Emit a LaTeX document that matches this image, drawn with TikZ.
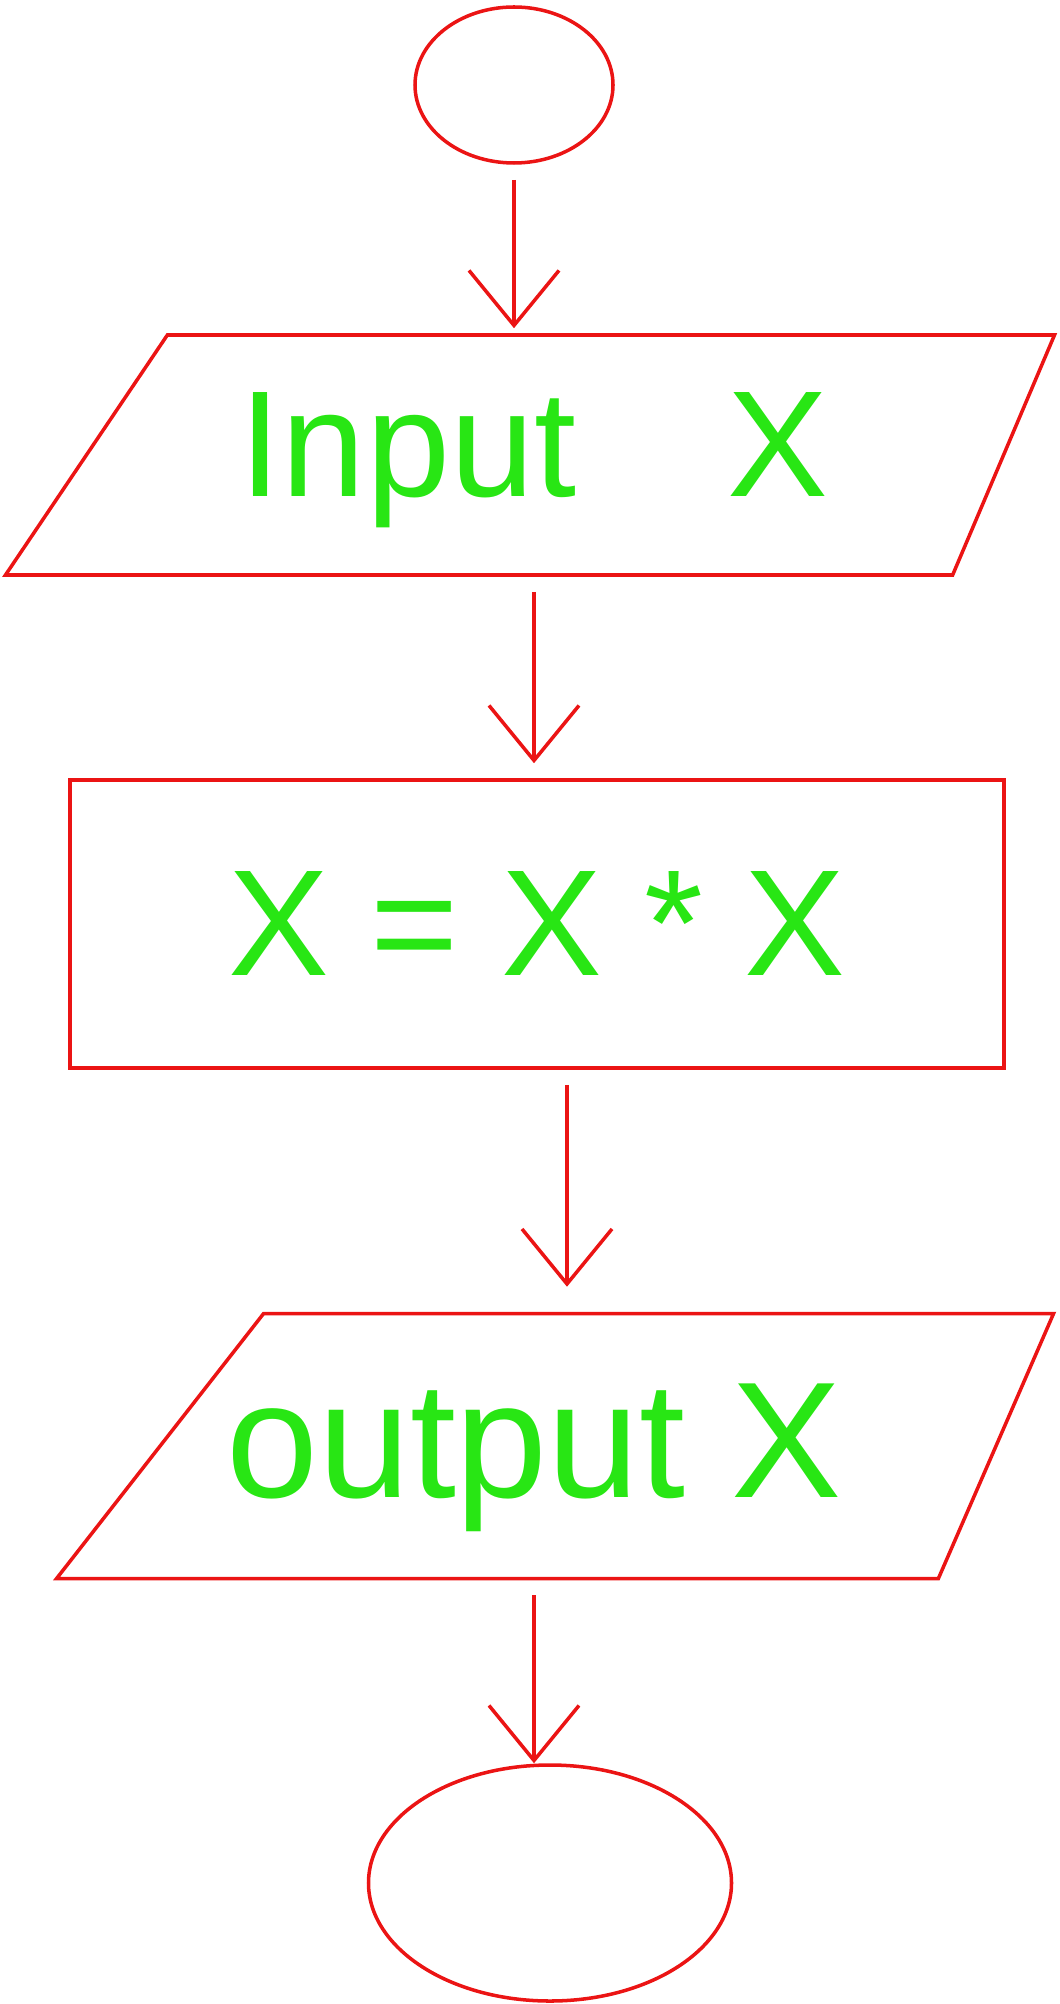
\documentclass[tikz,border=0pt]{standalone}
\usepackage{fontspec}
\setmainfont{Liberation Sans}
\usetikzlibrary{shapes.geometric,arrows.meta}
\definecolor{pen}{RGB}{235,20,20}
\definecolor{ink}{RGB}{40,230,20}

\begin{document}
\begin{tikzpicture}[line width=1pt,
    every node/.style={draw=pen,text=ink,font=\fontsize{43}{50}\selectfont},
    term/.style={ellipse},
    io/.style={trapezium,trapezium stretches body,inner xsep=0pt},
    txt/.style={draw=none},
    flow/.style={draw=pen,-{Straight Barb[length=5.5mm,width=9mm]},shorten <=1.5mm,shorten >=1.5mm}]
        \useasboundingbox (0,0) rectangle (10.6,-20.04);
        \node[term,minimum width=1.98cm,minimum height=1.56cm] (start) at (5.14,-0.85) {};
        \node[io,trapezium left angle=56,trapezium right angle=113,inner ysep=1.2cm,minimum width=10.49cm] (inp) at (5.60,-4.55) {};
        \node[txt] (inptxt) at (5.34,-4.6) {Input\quad X};
        \node[minimum width=9.34cm,minimum height=2.88cm] (calc) at (5.37,-9.24) {X = X * X};
        \node[io,trapezium left angle=52,trapezium right angle=113.5,inner ysep=1.325cm,minimum width=9.97cm] (out) at (6.01,-14.46) {};
        \node[txt,font=\fontsize{47}{54}\selectfont] (outtxt) at (5.34,-14.58) {output X};
        \node[term,minimum width=3.63cm,minimum height=2.36cm] (stop) at (5.50,-18.83) {};
          \draw[flow,shorten >=0.5mm] (start.south) -- (start.south |- inp.north);
          \draw[flow] (inp.south -| inptxt) -- (calc.north -| inptxt);
          \draw[flow,shorten >=2.5mm] ([xshift=3mm]calc.south) -- ([xshift=3mm]calc.south |- out.north);
          \draw[flow,shorten >=0pt] (out.south -| outtxt) -- (stop.north -| outtxt);
\end{tikzpicture}
\end{document}
